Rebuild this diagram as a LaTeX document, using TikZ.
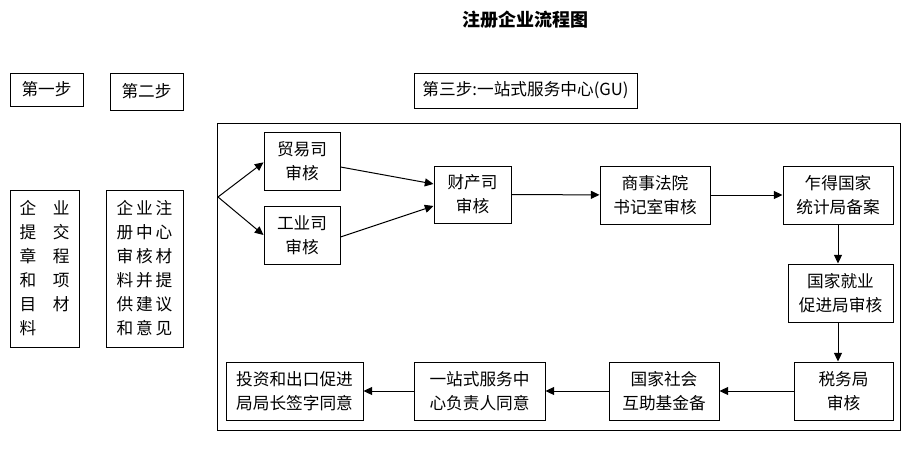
\documentclass[tikz,border=0pt]{standalone}
\usepackage{fontspec}
\setmainfont{Noto Sans CJK SC}
\usetikzlibrary{arrows.meta}
\tikzset{
  box/.style={draw,line width=0.75pt,align=center,inner sep=1pt,font=\fontsize{12.5}{18}\selectfont},
  flow/.style={-{Triangle[length=6.5pt,width=6pt]},line width=0.75pt}
}
\begin{document}
\begin{tikzpicture}[x=0.75pt,y=-0.75pt]
    \useasboundingbox (0,0) rectangle (915,450);
    \node[font=\fontsize{13.5}{16}\selectfont\bfseries] (title) at (525,20) {注册企业流程图};
    % steps
    \node[box,minimum width=54.75pt,minimum height=24.75pt] (step1) at (46.5,89.5) {第一步};
    \node[box,minimum width=54.75pt,minimum height=27.75pt] (step2) at (146.5,91.5) {第二步};
    \node[box,minimum width=167.25pt,minimum height=26.25pt] (step3) at (525.5,90.5) {第三步:一站式服务中心(GU)};
    \node[box,align=left,minimum width=51.75pt,minimum height=117.75pt] (submit) at (44.5,268.5)
      {企\hspace{1em}业\\提\hspace{1em}交\\章\hspace{1em}程\\和\hspace{1em}项\\目\hspace{1em}材\\料};
    \node[box,minimum width=57.75pt,minimum height=117.75pt] (review) at (144.5,268.5)
      {企\,业\,注\\册\,中\,心\\审\,核\,材\\料\,并\,提\\供\,建\,议\\和\,意\,见};
    \draw[line width=0.75pt] (217,123) rectangle (900,430);
    \coordinate (fork) at (218,197);
    % first row
    \node[box,minimum width=57pt,minimum height=43.5pt] (trade) at (302,161) {贸易司\\审核};
    \node[box,minimum width=57pt,minimum height=43.5pt] (industry) at (302,235) {工业司\\审核};
    \node[box,minimum width=57.75pt,minimum height=42.75pt] (property) at (472.5,194.5) {财产司\\审核};
    \node[box,minimum width=82.5pt,minimum height=43.5pt] (court) at (655,195) {商事法院\\书记室审核};
    \node[box,minimum width=82.5pt,minimum height=43.5pt] (stats) at (838,195) {乍得国家\\统计局备案};
    \node[box,minimum width=78.75pt,minimum height=43.5pt] (employ) at (840.5,293) {国家就业\\促进局审核};
    % last row
    \node[box,minimum width=74.25pt,minimum height=43.5pt] (tax) at (843.5,391) {税务局\\审核};
    \node[box,minimum width=82.5pt,minimum height=43.5pt] (fund) at (664,391) {国家社会\\互助基金备};
    \node[box,minimum width=98.25pt,minimum height=43.5pt] (onestop) at (479.5,391) {一站式服务中\\心负责人同意};
    \node[box,minimum width=102.75pt,minimum height=43.5pt] (invest) at (294.5,391) {投资和出口促进\\局局长签字同意};
    % connectors
    \draw[flow] (fork) -- ([yshift=-1pt]trade.west);
    \draw[flow] (fork) -- (industry.west);
    \draw[flow] ([yshift=-4.5pt]trade.east) -- ([yshift=7.9pt]property.west);
    \draw[flow] ([yshift=-1.5pt]industry.east) -- ([yshift=-8.6pt]property.west);
    \draw[flow] (property) -- (court);
    \draw[flow] (court) -- (stats);
    \draw[flow] (stats.south) -- (stats.south |- employ.north);
    \draw[flow] (stats.south |- employ.south) -- (stats.south |- tax.north);
    \draw[flow] (tax) -- (fund);
    \draw[flow] (fund) -- (onestop);
    \draw[flow] (onestop) -- (invest);
  \end{tikzpicture}
\end{document}
